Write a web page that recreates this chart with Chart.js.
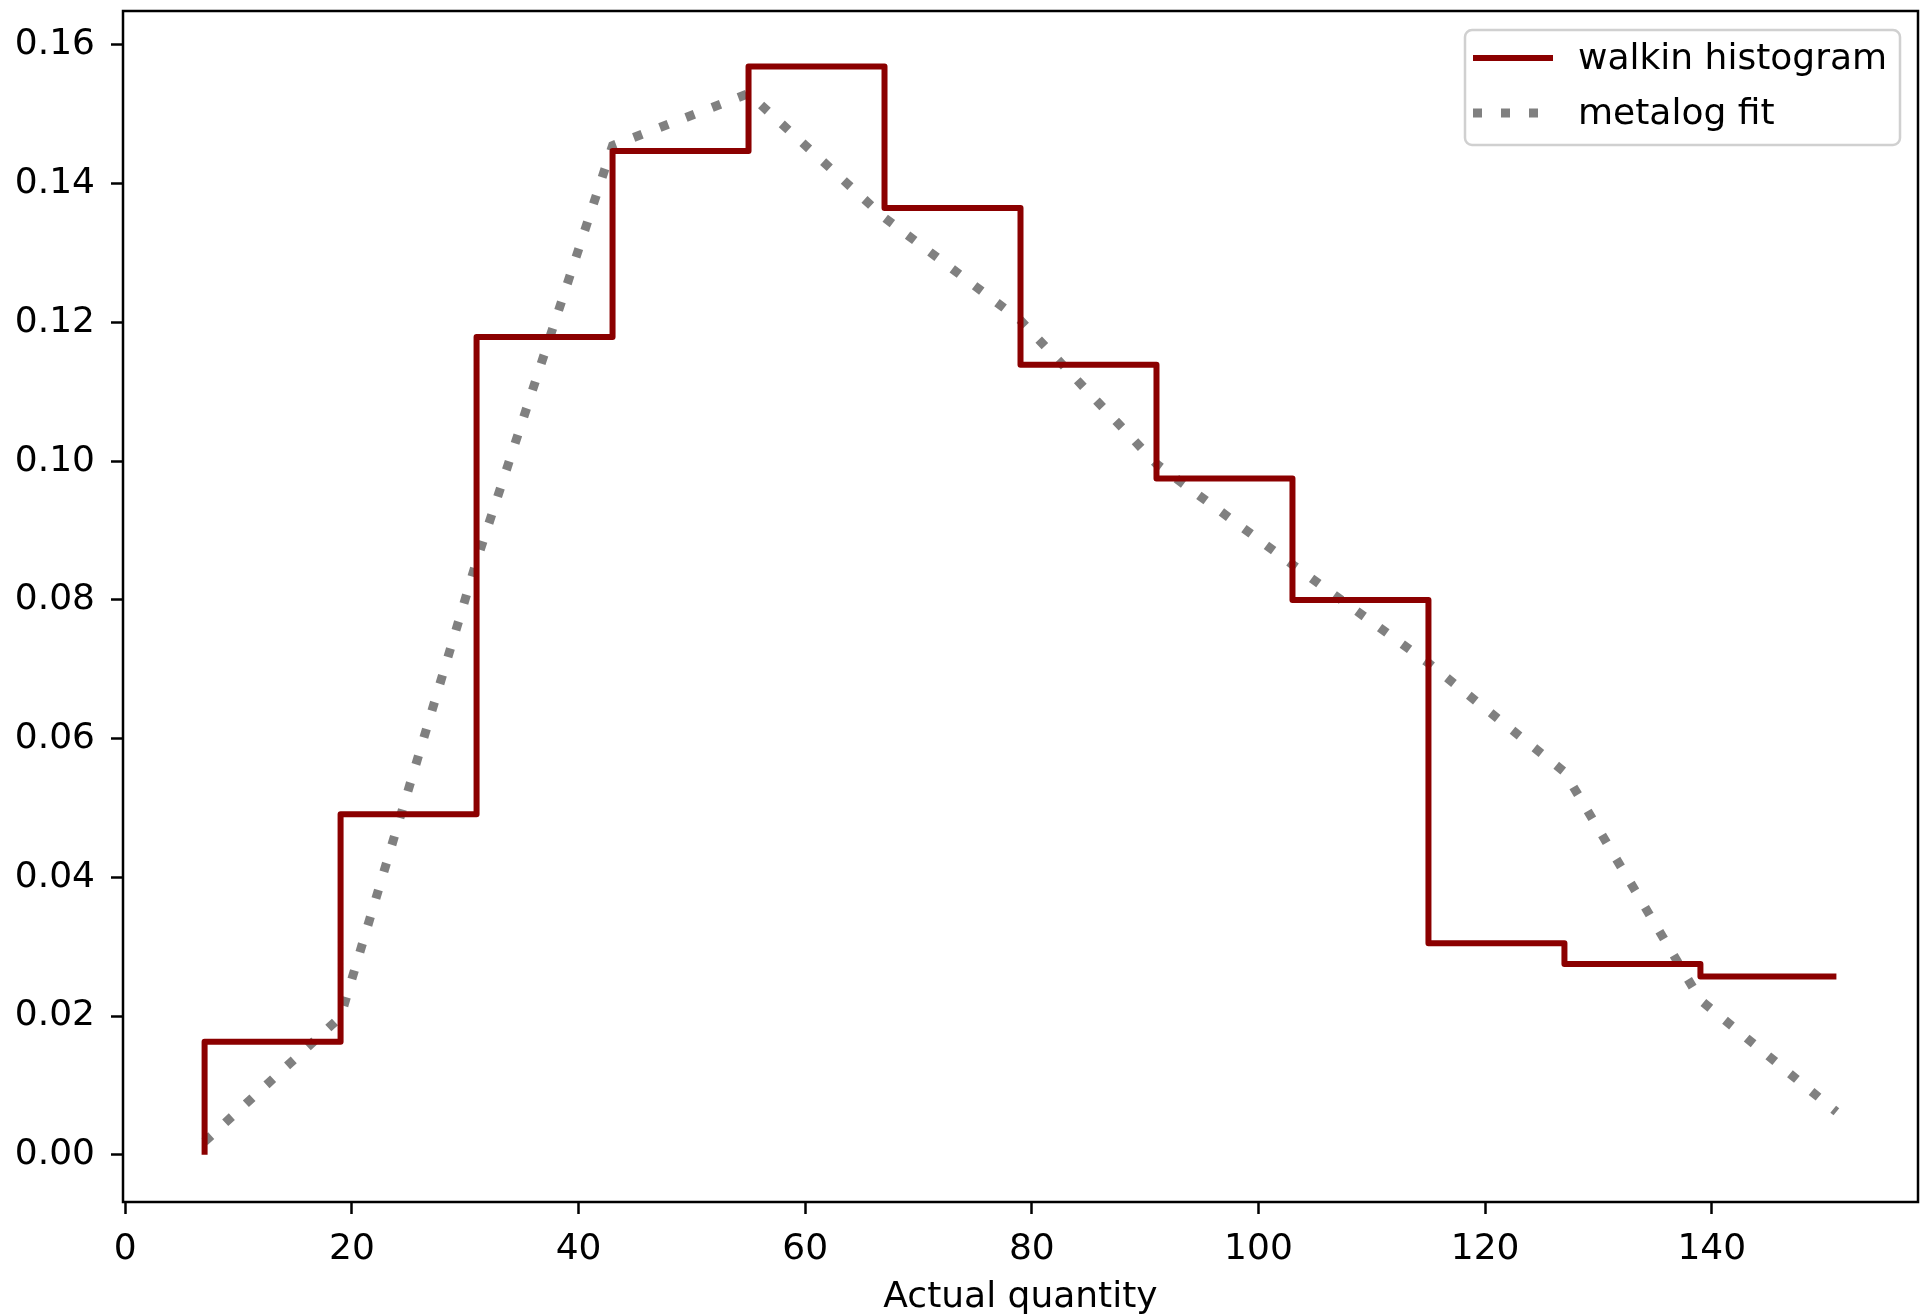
<!DOCTYPE html>
<html>
<head>
<meta charset="utf-8">
<script src="https://cdn.jsdelivr.net/npm/chart.js@4/dist/chart.umd.min.js"></script>
<style>
    body { margin: 0; background: #fff; }
    canvas { display: block; }
</style>
</head>
<body>
<canvas id="hist_chart" width="1921" height="1316"></canvas>
<script>
// bin edges of the histogram (Actual quantity)
const binEdges = [7, 19, 31, 43, 55, 67, 79, 91, 103, 115, 127, 139, 151];
// density per bin
const walkinHist = [0.0163, 0.0491, 0.1179, 0.1447, 0.1569, 0.1365, 0.1139, 0.0975, 0.0800, 0.0305, 0.0275, 0.0257];
// metalog pdf evaluated at the bin edges
const metalogFit = [0.0019, 0.0199, 0.0856, 0.1455, 0.1530, 0.1351, 0.1203, 0.0996, 0.0851, 0.0709, 0.0552, 0.0223, 0.0062];

const xTicks = { min: -0.2, max: 158.2, step: 20 };
const yTicks = { min: -0.0068, max: 0.1649, step: 0.02 };

const FONT = { family: 'DejaVu Sans', size: 36 };

// staircase: start at 0, rise at each edge, run across the bin
const histPoints = [{ x: binEdges[0], y: 0 }];
walkinHist.forEach((h, i) => {
    histPoints.push({ x: binEdges[i], y: h });
    histPoints.push({ x: binEdges[i + 1], y: h });
});
const metalogPoints = binEdges.map((e, i) => ({ x: e, y: metalogFit[i] }));

// frame around the axes + matplotlib style legend
const framePlugin = {
    id: 'frame',
    afterDatasetsDraw(chart) {
        const { ctx, chartArea: a } = chart;
        ctx.save();
        ctx.strokeStyle = '#000';
        ctx.lineWidth = 2.5;
        ctx.strokeRect(a.left, a.top, a.right - a.left, a.bottom - a.top);

        // legend box
        const boxR = a.right - 18, boxT = a.top + 19;
        const boxL = boxR - 435, boxB = boxT + 115;
        ctx.beginPath();
        ctx.roundRect(boxL, boxT, boxR - boxL, boxB - boxT, 7);
        ctx.fillStyle = 'rgba(255,255,255,0.8)';
        ctx.fill();
        ctx.strokeStyle = '#d0d0d0';
        ctx.lineWidth = 2.5;
        ctx.stroke();

        ctx.font = `${FONT.size}px ${FONT.family}`;
        ctx.textBaseline = 'middle';
        ctx.textAlign = 'left';
        chart.data.datasets.forEach((ds, i) => {
            const y = boxT + 28 + i * 55;
            ctx.beginPath();
            ctx.strokeStyle = ds.borderColor;
            ctx.lineWidth = ds.borderWidth;
            ctx.lineCap = 'butt';
            ctx.setLineDash(ds.borderDash || []);
            ctx.moveTo(boxL + 8, y);
            ctx.lineTo(boxL + 88, y);
            ctx.stroke();
            ctx.setLineDash([]);
            ctx.fillStyle = '#000';
            ctx.fillText(ds.label, boxL + 113, y + 2);
        });
        ctx.restore();
    }
};

const ctx = document.getElementById('hist_chart').getContext('2d');
new Chart(ctx, {
    type: 'line',
    data: {
        datasets: [{
            label: 'walkin histogram',
            data: histPoints,
            borderColor: '#8b0000',
            borderWidth: 6,
            borderJoinStyle: 'round',
            pointRadius: 0,
            tension: 0,
            fill: false
        }, {
            label: 'metalog fit',
            data: metalogPoints,
            borderColor: '#808080',
            borderWidth: 9,
            borderDash: [9, 19],
            borderCapStyle: 'butt',
            pointRadius: 0,
            tension: 0,
            fill: false
        }]
    },
    options: {
        responsive: false,
        animation: false,
        devicePixelRatio: 1,
        layout: { padding: { top: 11, right: 3, left: 0, bottom: 0 } },
        plugins: {
            legend: { display: false },
            tooltip: { enabled: false }
        },
        scales: {
            x: {
                type: 'linear',
                min: xTicks.min,
                max: xTicks.max,
                afterFit: scale => {
                    scale.height = 114;
                    scale.paddingLeft = 0;
                    scale.paddingRight = 0;
                },
                border: { display: false },
                grid: {
                    drawOnChartArea: false,
                    drawTicks: true,
                    tickLength: 12,
                    tickWidth: 2.5,
                    tickColor: '#000'
                },
                ticks: {
                    stepSize: xTicks.step,
                    includeBounds: false,
                    autoSkip: false,
                    maxRotation: 0,
                    padding: 14,
                    color: '#000',
                    font: FONT,
                    callback: v => String(v)
                },
                title: {
                    display: true,
                    text: 'Actual quantity',
                    color: '#000',
                    font: { ...FONT, lineHeight: 1.0 },
                    padding: { top: 0, bottom: 0 }
                }
            },
            y: {
                type: 'linear',
                min: yTicks.min,
                max: yTicks.max,
                afterFit: scale => {
                    scale.width = 123;
                    scale.paddingTop = 0;
                    scale.paddingBottom = 0;
                },
                border: { display: false },
                grid: {
                    drawOnChartArea: false,
                    drawTicks: true,
                    tickLength: 12,
                    tickWidth: 2.5,
                    tickColor: '#000'
                },
                ticks: {
                    stepSize: yTicks.step,
                    includeBounds: false,
                    autoSkip: false,
                    padding: 16,
                    color: '#000',
                    font: FONT,
                    callback: v => v.toFixed(2)
                }
            }
        }
    },
    plugins: [framePlugin]
});
</script>
</body>
</html>
